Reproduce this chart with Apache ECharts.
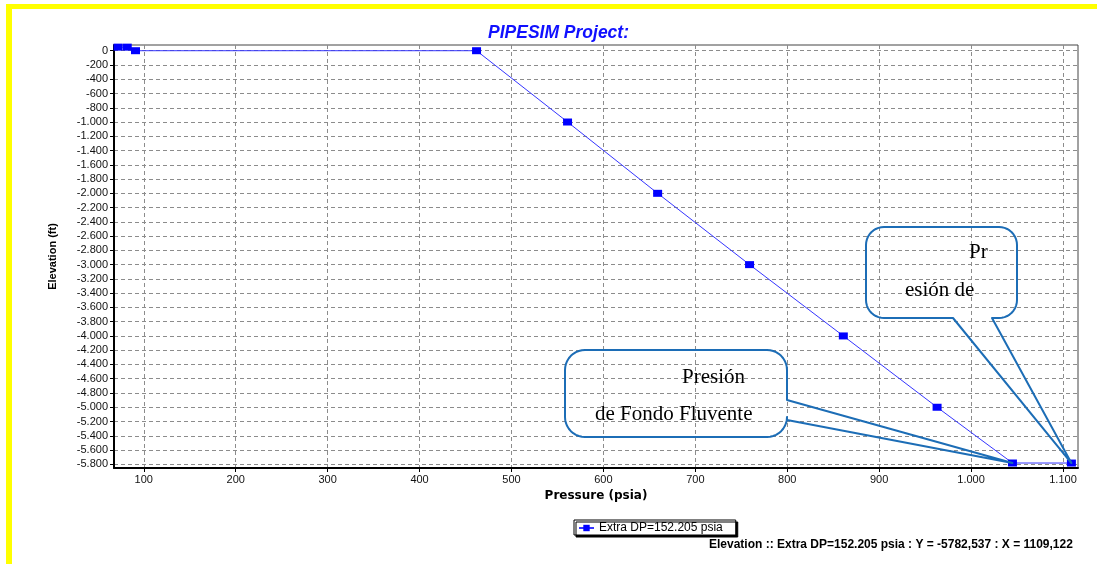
<!DOCTYPE html>
<html>
<head>
<meta charset="utf-8">
<script src="https://cdn.jsdelivr.net/npm/echarts@6/dist/echarts.min.js"></script>
<style>
  html, body { margin: 0; padding: 0; background: #fff; }
  #chart { width: 1097px; height: 564px; }
</style>
</head>
<body>
<div id="chart"></div>
<script>
// Pressure traverse: pressure (psia) against elevation (ft)
const pressure  = [72, 82, 91, 462, 561, 659, 759, 861, 963, 1045, 1109.122];
const elevation = [50, 50, 0, 0, -1000, -2000, -3000, -4000, -5000, -5782, -5782.537];

const seriesName = 'Extra DP=152.205 psia';
const xTicks = [100, 200, 300, 400, 500, 600, 700, 800, 900, 1000, 1100];
const yTicks = [0, -200, -400, -600, -800, -1000, -1200, -1400, -1600, -1800, -2000,
  -2200, -2400, -2600, -2800, -3000, -3200, -3400, -3600, -3800, -4000,
  -4200, -4400, -4600, -4800, -5000, -5200, -5400, -5600, -5800];

// Callout annotations: text lines and the data point each one points at
const calloutA = { lines: ['Presión', 'de Fondo Fluvente'], pointIndex: 9 };
const calloutB = { lines: ['Pr', 'esión de'], pointIndex: 10 };

// thousands separator as '.', decimal as ','
function fmtThousands(v) {
  const s = String(Math.abs(v)).replace(/\B(?=(\d{3})+(?!\d))/g, '.');
  return (v < 0 ? '-' : '') + s;
}
function fmtDecimal(v) { return String(v).replace('.', ','); }

const FONT = 'Liberation Sans, Arial, sans-serif';
const WIDE = 'DejaVu Sans, Verdana, sans-serif';
const chart = echarts.init(document.getElementById('chart'), null, { renderer: 'canvas' });

const lastIdx = pressure.length - 1;
const footer = 'Elevation :: ' + seriesName + ' : Y = ' + fmtDecimal(elevation[lastIdx]) +
  ' : X = ' + fmtDecimal(pressure[lastIdx]);

chart.setOption({
  animation: false,
  backgroundColor: '#ffffff',
  title: {
    text: 'PIPESIM Project:',
    left: 488, top: 24, padding: 0,
    textStyle: { fontFamily: FONT, fontSize: 17.5, fontWeight: 'bold', fontStyle: 'italic', color: '#1010ff' }
  },
  legend: {
    data: [seriesName],
    left: 574, top: 520,
    padding: [2, 13, 1, 4],
    itemWidth: 15, itemHeight: 8, itemGap: 4,
    backgroundColor: '#ffffff',
    borderColor: '#000', borderWidth: 1, borderRadius: 0,
    shadowColor: '#000', shadowBlur: 0, shadowOffsetX: 2, shadowOffsetY: 2,
    textStyle: { fontFamily: FONT, fontSize: 12, color: '#000' }
  },
  grid: {
    left: 114, top: 45, right: 19, bottom: 96,
    show: true, borderColor: '#444', borderWidth: 1, backgroundColor: '#fff'
  },
  xAxis: {
    type: 'value', min: 67.6, max: 1116.3,
    name: 'Pressure (psia)', nameLocation: 'middle', nameGap: 22,
    nameTextStyle: { fontFamily: WIDE, fontSize: 12, fontWeight: 'bold', color: '#000' },
    axisLine: { onZero: false, lineStyle: { color: '#000', width: 2 } },
    axisTick: { show: true, length: 4, customValues: xTicks, lineStyle: { color: '#000' } },
    axisLabel: { customValues: xTicks, formatter: fmtThousands, fontFamily: FONT, fontSize: 11, color: '#111', margin: 6 },
    splitLine: { show: true, lineStyle: { color: '#8c8c8c', type: [4, 3], width: 1 } }
  },
  yAxis: {
    type: 'value', min: -5852, max: 80,
    name: 'Elevation (ft)', nameLocation: 'middle', nameGap: 56, nameRotate: 90,
    nameTextStyle: { fontFamily: FONT, fontSize: 11, fontWeight: 'bold', color: '#000' },
    axisLine: { onZero: false, lineStyle: { color: '#000', width: 2 } },
    axisTick: { show: true, length: 4, customValues: yTicks, lineStyle: { color: '#000' } },
    axisLabel: { customValues: yTicks, formatter: fmtThousands, fontFamily: FONT, fontSize: 11, color: '#111', margin: 6 },
    splitLine: { show: true, lineStyle: { color: '#8c8c8c', type: [4, 3], width: 1 } }
  },
  series: [{
    name: seriesName,
    type: 'line',
    data: pressure.map((p, i) => [p, elevation[i]]),
    symbol: 'rect', symbolSize: [9, 7], showAllSymbol: true,
    itemStyle: { color: '#0000ff' },
    lineStyle: { color: '#3535ff', width: 1 },
    clip: true
  }]
});

// Outline of a rounded balloon with a wedge pointer ending at `tip`
function balloonPoints(L, T, R, B, r, wedge) {
  const pts = [];
  const arc = (cx, cy, a0, a1) => {
    const n = 10;
    for (let i = 0; i <= n; i++) {
      const a = (a0 + (a1 - a0) * i / n) * Math.PI / 180;
      pts.push([cx + r * Math.cos(a), cy + r * Math.sin(a)]);
    }
  };
  pts.push([L + r, T]);
  arc(R - r, T + r, -90, 0);
  if (wedge.side === 'right') {
    pts.push([R, wedge.a], wedge.tip, [R, wedge.b]);
  }
  arc(R - r, B - r, 0, 90);
  if (wedge.side === 'bottom') {
    pts.push([wedge.b, B], wedge.tip, [wedge.a, B]);
  }
  arc(L + r, B - r, 90, 180);
  arc(L + r, T + r, 180, 270);
  return pts;
}

const tipA = chart.convertToPixel({ seriesIndex: 0 }, [pressure[calloutA.pointIndex], elevation[calloutA.pointIndex]]);
const tipB = chart.convertToPixel({ seriesIndex: 0 }, [pressure[calloutB.pointIndex], elevation[calloutB.pointIndex]]);

const calloutStroke = { stroke: '#1c6db6', lineWidth: 2, fill: null, lineJoin: 'round' };
const serif = 'Liberation Serif, Times New Roman, serif';

chart.setOption({
  graphic: [
    // page frame accent
    { type: 'rect', shape: { x: 6, y: 4, width: 1091, height: 5 }, style: { fill: '#ffff00' }, z: 10 },
    { type: 'rect', shape: { x: 6, y: 4, width: 6, height: 560 }, style: { fill: '#ffff00' }, z: 10 },
    {
      type: 'polygon', z: 20,
      shape: { points: balloonPoints(565, 350, 787, 437, 20, { side: 'right', a: 400, b: 420, tip: tipA }) },
      style: calloutStroke
    },
    {
      type: 'polygon', z: 20,
      shape: { points: balloonPoints(866, 227, 1017, 318, 18, { side: 'bottom', a: 953, b: 992, tip: tipB }) },
      style: calloutStroke
    },
    { type: 'text', z: 21, x: 682, y: 377, style: { text: calloutA.lines[0], font: '21px ' + serif, fill: '#000', verticalAlign: 'middle' } },
    { type: 'text', z: 21, x: 595, y: 414, style: { text: calloutA.lines[1], font: '21px ' + serif, fill: '#000', verticalAlign: 'middle' } },
    { type: 'text', z: 21, x: 969, y: 252, style: { text: calloutB.lines[0], font: '21px ' + serif, fill: '#000', verticalAlign: 'middle' } },
    { type: 'text', z: 21, x: 905, y: 290, style: { text: calloutB.lines[1], font: '21px ' + serif, fill: '#000', verticalAlign: 'middle' } },
    { type: 'text', z: 21, x: 709, y: 545, style: { text: footer, font: 'bold 12px ' + FONT, fill: '#000', verticalAlign: 'middle' } }
  ]
});
</script>
</body>
</html>
